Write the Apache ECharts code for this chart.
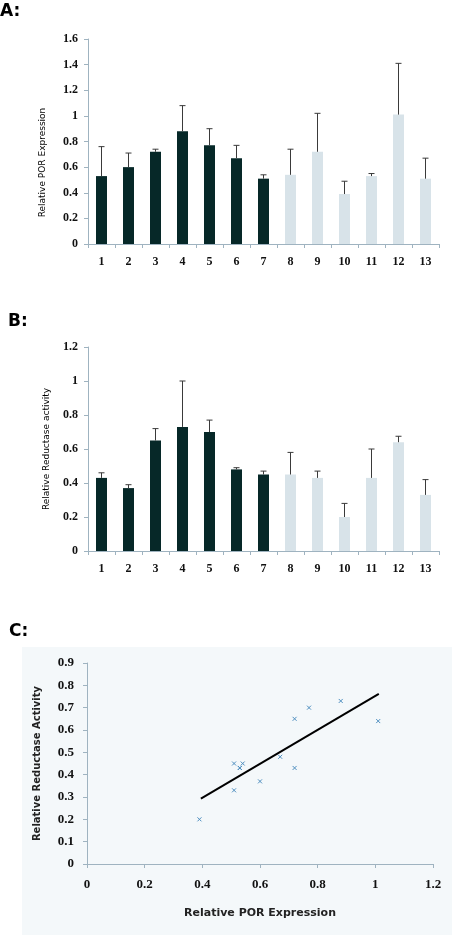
<!DOCTYPE html>
<html><head><meta charset="utf-8">
<script src="https://cdn.jsdelivr.net/npm/echarts@6/dist/echarts.min.js"></script>
<style>html,body{margin:0;padding:0;background:#fff}#c{width:454px;height:943px}</style>
</head><body><div id="c"></div>
<script>
const categories = ['1','2','3','4','5','6','7','8','9','10','11','12','13'];
const porMean = [0.53,0.60,0.72,0.88,0.77,0.67,0.51,0.54,0.72,0.39,0.53,1.01,0.51];
const porErr  = [0.23,0.11,0.02,0.20,0.13,0.10,0.03,0.20,0.30,0.10,0.02,0.40,0.16];
const redMean = [0.43,0.37,0.65,0.73,0.70,0.48,0.45,0.45,0.43,0.20,0.43,0.64,0.33];
const redErr  = [0.03,0.02,0.07,0.27,0.07,0.01,0.02,0.13,0.04,0.08,0.17,0.035,0.09];
const trendX = [0.395, 1.012];
const trendY = [0.293, 0.762];
const darkCount = 7;

const DARK = '#062828', LIGHT = '#d8e3e9', AX = '#9fb3c0';
const serif = 'Liberation Serif';
const sans = 'DejaVu Sans';

function errSeries(gi, mean, err) {
  return {
    type: 'custom', xAxisIndex: gi, yAxisIndex: gi, z: 5,
    data: categories.map((c, i) => [i, mean[i], err[i]]),
    encode: {x: 0, y: 1},
    renderItem: function (params, api) {
      const i = api.value(0), v = api.value(1), e = api.value(2);
      const p0 = api.coord([i, v]);
      const p1 = api.coord([i, v + e]);
      const st = {stroke: '#3a3a3a', lineWidth: 1};
      return {type: 'group', children: [
        {type: 'line', shape: {x1: p0[0], y1: p0[1], x2: p1[0], y2: p1[1]}, style: st},
        {type: 'line', shape: {x1: p1[0] - 3, y1: p1[1], x2: p1[0] + 3, y2: p1[1]}, style: st}
      ]};
    }
  };
}
function barSeries(gi, mean) {
  return {
    type: 'bar', xAxisIndex: gi, yAxisIndex: gi, barWidth: 11,
    data: mean,
    itemStyle: {color: p => p.dataIndex < darkCount ? DARK : LIGHT}
  };
}
function catAxis(gi) {
  return {
    type: 'category', gridIndex: gi, data: categories,
    axisLine: {lineStyle: {color: AX}},
    axisTick: {show: true, length: 4, lineStyle: {color: AX}},
    axisLabel: {fontFamily: serif, fontSize: 12, color: '#111', fontWeight: 'bold', margin: 12}
  };
}
function valAxis(gi, max, interval, name, gap, pad) {
  return {
    type: 'value', gridIndex: gi, min: 0, max: max, interval: interval,
    splitLine: {show: false},
    axisLine: {show: true, lineStyle: {color: AX}},
    axisTick: {show: true, length: 4, lineStyle: {color: AX}},
    axisLabel: {fontFamily: serif, fontSize: 12, color: '#111', fontWeight: 'bold', margin: 10},
    name: name, nameLocation: 'middle', nameGap: gap,
    nameTextStyle: {fontFamily: sans, fontSize: 9, color: '#000', padding: pad}
  };
}

const scatterData = porMean.map((x, i) => [x, redMean[i]]);

const option = {
  animation: false,
  graphic: [
    {type: 'rect', shape: {x: 22, y: 647, width: 430, height: 288}, style: {fill: '#f4f8fa'}, z: -10},
    {type: 'text', left: 0, top: 3, style: {text: 'A:', font: 'bold 17px "DejaVu Sans"', fill: '#000'}},
    {type: 'text', left: 8, top: 313, style: {text: 'B:', font: 'bold 17px "DejaVu Sans"', fill: '#000'}},
    {type: 'text', left: 9, top: 623, style: {text: 'C:', font: 'bold 17px "DejaVu Sans"', fill: '#000'}}
  ],
  grid: [
    {left: 88, right: 15, top: 39, height: 205},
    {left: 88, right: 15, top: 347, height: 204},
    {left: 87, right: 21, top: 663, height: 201}
  ],
  xAxis: [
    catAxis(0), catAxis(1),
    {
      type: 'value', gridIndex: 2, min: 0, max: 1.2, interval: 0.2,
      splitLine: {show: false},
      axisLine: {lineStyle: {color: AX}},
      axisTick: {show: true, length: 4, lineStyle: {color: AX}},
      axisLabel: {fontFamily: serif, fontSize: 13, color: '#111', fontWeight: 'bold', margin: 14},
      name: 'Relative POR Expression', nameLocation: 'middle', nameGap: 44,
      nameTextStyle: {fontFamily: sans, fontSize: 11, fontWeight: 'bold', color: '#222'}
    }
  ],
  yAxis: [
    valAxis(0, 1.6, 0.2, 'Relative POR Expression', 41, [0, 42, 0, 0]),
    valAxis(1, 1.2, 0.2, 'Relative Reductase activity', 37, 0),
    {
      type: 'value', gridIndex: 2, min: 0, max: 0.9, interval: 0.1,
      splitLine: {show: false},
      axisLine: {show: true, lineStyle: {color: AX}},
      axisTick: {show: true, length: 4, lineStyle: {color: AX}},
      axisLabel: {fontFamily: serif, fontSize: 13, color: '#111', fontWeight: 'bold', margin: 13, formatter: v => String(+v.toFixed(1))},
      name: 'Relative Reductase Activity', nameLocation: 'middle', nameGap: 45,
      nameTextStyle: {fontFamily: sans, fontSize: 10, fontWeight: 'bold', color: '#222'}
    }
  ],
  series: [
    barSeries(0, porMean), errSeries(0, porMean, porErr),
    barSeries(1, redMean), errSeries(1, redMean, redErr),
    {
      type: 'scatter', xAxisIndex: 2, yAxisIndex: 2,
      data: scatterData, symbol: 'path://M0,0L10,10M10,0L0,10', symbolSize: 4,
      itemStyle: {color: 'none', borderColor: '#4f8fc0', borderWidth: 1, opacity: 1}
    },
    {
      type: 'line', xAxisIndex: 2, yAxisIndex: 2, symbol: 'none',
      data: trendX.map((x, i) => [x, trendY[i]]),
      lineStyle: {color: '#000', width: 2}
    }
  ]
};
const chart = echarts.init(document.getElementById('c'), null, {renderer: 'canvas'});
chart.setOption(option);
</script></body></html>
